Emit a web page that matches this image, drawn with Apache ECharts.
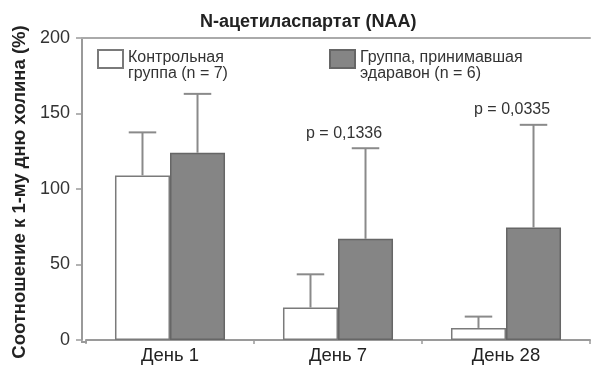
<!DOCTYPE html>
<html>
<head>
<meta charset="utf-8">
<script src="https://cdn.jsdelivr.net/npm/echarts@6/dist/echarts.min.js"></script>
<style>
html,body{margin:0;padding:0;background:#fff;}
#c{width:593px;height:365px;}
</style>
</head>
<body>
<div id="c"></div>
<script>
var categories = ['День 1', 'День 7', 'День 28'];
var controlName = 'Контрольная\nгруппа (n = 7)';
var edaravoneName = 'Группа, принимавшая\nэдаравон (n = 6)';
var controlMean = [109, 21.5, 8];
var controlErrTop = [137.5, 43.5, 15.5];
var edaravoneMean = [124, 67, 74.5];
var edaravoneErrTop = [163, 127, 142.5];
var pLabels = ['', 'p = 0,1336', 'p = 0,0335'];
var yTicks = [0, 50, 100, 150, 200];

var FONT = '"Liberation Sans", Arial, sans-serif';
var GAP = 0.345;

function errData(mean, top) {
  return mean.map(function (m, i) { return [i, m, top[i]]; });
}

function makeRender(side) {
  return function (params, api) {
    var ci = api.value(0), m = api.value(1), t = api.value(2);
    var label = side > 0 ? pLabels[ci] : '';
    var b = api.coord([ci, m]);
    var tp = api.coord([ci, t]);
    var catW = api.size([1, 0])[0];
    var bw = catW * (1 - GAP) / 2;
    var x = b[0] + side * bw / 2;
    var cap = bw * 0.5;
    var st = { stroke: '#8a8a8a', lineWidth: 2 };
    var children = [
      { type: 'line', shape: { x1: x, y1: b[1], x2: x, y2: tp[1] }, style: st },
      { type: 'line', shape: { x1: x - cap / 2, y1: tp[1], x2: x + cap / 2, y2: tp[1] }, style: st }
    ];
    if (label) {
      children.push({
        type: 'text',
        style: {
          text: label, x: x - bw * 0.39, y: tp[1] - 15,
          align: 'center', verticalAlign: 'middle',
          fontSize: 16, fontFamily: FONT, fill: '#333'
        }
      });
    }
    return { type: 'group', children: children };
  };
}

function legendFmt(name) {
  var parts = name.split('\n');
  return '{a|' + parts[0] + '}\n{b|' + parts[1] + '}';
}

var chart = echarts.init(document.getElementById('c'), null, { renderer: 'canvas' });
var legendText = {
  fontSize: 16, color: '#333', fontFamily: FONT,
  rich: {
    a: { fontSize: 16, lineHeight: 30, color: '#333', fontFamily: FONT },
    b: { fontSize: 16, lineHeight: 2, color: '#333', fontFamily: FONT }
  }
};
chart.setOption({
  animation: false,
  backgroundColor: '#fff',
  title: {
    text: 'N-ацетиласпартат (NAA)', left: 200, top: 13, padding: 0,
    textStyle: { fontSize: 18, fontWeight: 'bold', color: '#222', fontFamily: FONT }
  },
  legend: [
    { data: [controlName], left: 97, top: 49, padding: 0, itemWidth: 25, itemHeight: 18, itemGap: 0,
      icon: 'rect', formatter: legendFmt, textStyle: legendText, selectedMode: false },
    { data: [edaravoneName], left: 329, top: 49, padding: 0, itemWidth: 25, itemHeight: 18, itemGap: 0,
      icon: 'rect', formatter: legendFmt, textStyle: legendText, selectedMode: false }
  ],
  grid: { left: 86, right: 3, top: 38, bottom: 23, containLabel: false },
  xAxis: [
    {
      type: 'category', data: categories, position: 'bottom',
      axisLine: { lineStyle: { color: '#9a9a9a', width: 2 } },
      axisTick: { show: true, length: 4, lineStyle: { color: '#9a9a9a', width: 1.5 } },
      axisLabel: { fontSize: 18.5, color: '#222', fontFamily: FONT, margin: 6 }
    },
    {
      type: 'category', data: categories, position: 'top',
      axisLine: { lineStyle: { color: '#aaaaaa', width: 2 } },
      axisTick: { show: false }, axisLabel: { show: false }
    }
  ],
  yAxis: {
    type: 'value', min: yTicks[0], max: yTicks[yTicks.length - 1], interval: 50, offset: 4,
    name: 'Соотношение к 1-му дню холина (%)', nameLocation: 'middle', nameGap: 53,
    nameTextStyle: { fontSize: 18.5, fontWeight: 'bold', color: '#222', fontFamily: FONT, padding: [0, 6, 0, 0] },
    axisLine: { show: true, lineStyle: { color: '#9a9a9a', width: 2 } },
    axisTick: { show: true, length: 6, lineStyle: { color: '#9a9a9a', width: 1.5 } },
    axisLabel: { fontSize: 18, color: '#333', fontFamily: FONT, margin: 12 },
    splitLine: { show: false }
  },
  graphic: [
    { type: 'line', shape: { x1: 81, y1: 342, x2: 87, y2: 342 }, style: { stroke: '#9a9a9a', lineWidth: 2 }, z: 10 },
    { type: 'line', shape: { x1: 81, y1: 38, x2: 87, y2: 38 }, style: { stroke: '#aaaaaa', lineWidth: 2 }, z: 10 }
  ],
  series: [
    {
      name: controlName, type: 'bar', data: controlMean, barGap: '0%', barCategoryGap: (GAP * 100) + '%',
      itemStyle: { color: '#ffffff', borderColor: '#7a7a7a', borderWidth: 1.5 }
    },
    {
      name: edaravoneName, type: 'bar', data: edaravoneMean, barGap: '0%', barCategoryGap: (GAP * 100) + '%',
      itemStyle: { color: '#858585', borderColor: '#666666', borderWidth: 1.5 }
    },
    {
      type: 'custom', name: 'errC', data: errData(controlMean, controlErrTop), renderItem: makeRender(-1), z: 5,
      encode: { x: 0, y: [1, 2] }
    },
    {
      type: 'custom', name: 'errE', data: errData(edaravoneMean, edaravoneErrTop), renderItem: makeRender(1), z: 5,
      encode: { x: 0, y: [1, 2] }
    }
  ]
});
</script>
</body>
</html>
